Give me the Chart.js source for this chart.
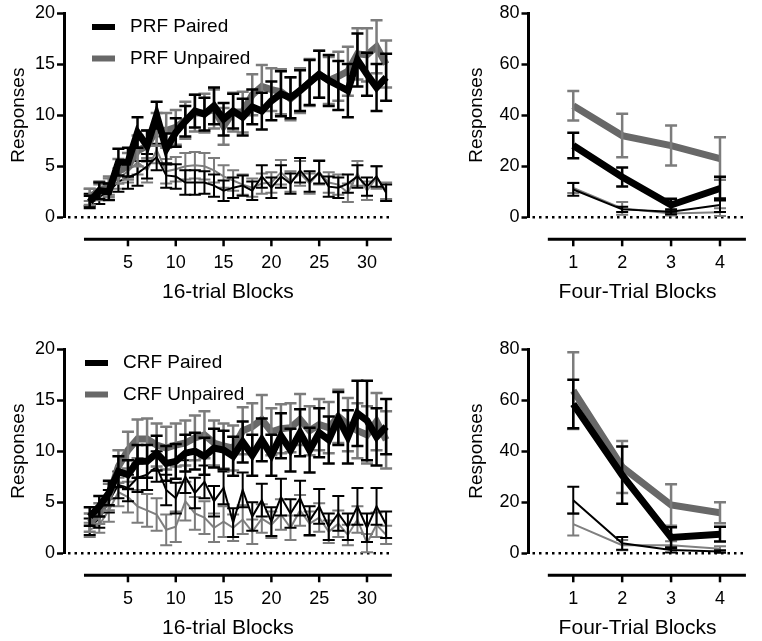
<!DOCTYPE html>
<html>
<head>
<meta charset="utf-8">
<script src="https://cdn.jsdelivr.net/npm/chart.js@4.4.0/dist/chart.umd.min.js"></script>
<style>
  body { margin: 0; background: #fff; width: 762px; height: 641px; position: relative; overflow: hidden; }
  canvas { position: absolute; }
</style>
</head>
<body>
<canvas id="prfBlocks" width="412" height="305" style="left:0;top:0"></canvas>
<canvas id="prfFour" width="302" height="305" style="left:458px;top:0"></canvas>
<canvas id="crfBlocks" width="412" height="305" style="left:0;top:336px"></canvas>
<canvas id="crfFour" width="302" height="305" style="left:458px;top:336px"></canvas>
<script>
// x values and tick labels
var blocks = [1, 2, 3, 4, 5, 6, 7, 8, 9, 10, 11, 12, 13, 14, 15, 16, 17, 18, 19, 20, 21, 22, 23, 24, 25, 26, 27, 28, 29, 30, 31, 32];
var blockTicks = [5, 10, 15, 20, 25, 30];
var fourBlocks = [1, 2, 3, 4];
var fourTicks = [1, 2, 3, 4];

// PRF, 16-trial blocks
var prfPaired = [1.5, 2.6, 2.5, 5.4, 5.4, 8.3, 7.0, 10.0, 6.7, 8.3, 9.4, 10.4, 10.1, 10.9, 9.6, 10.4, 9.8, 10.8, 10.4, 11.4, 12.1, 11.7, 12.4, 13.2, 14.0, 13.4, 12.9, 12.4, 15.4, 14.0, 12.7, 13.7];
var prfPairedErr = [0.6, 0.8, 0.8, 1.3, 1.4, 1.5, 1.5, 1.3, 1.5, 1.4, 1.5, 1.6, 1.6, 1.8, 1.6, 1.7, 1.8, 1.7, 1.8, 1.9, 2.2, 2.0, 2.0, 2.2, 2.3, 2.5, 2.4, 2.6, 2.6, 2.1, 2.3, 2.3];
var prfUnpaired = [2.0, 2.6, 3.0, 4.5, 5.0, 6.5, 7.0, 8.6, 8.5, 8.8, 9.5, 10.2, 10.2, 10.6, 8.9, 10.3, 10.3, 12.0, 12.8, 12.5, 12.3, 11.6, 12.4, 13.2, 14.0, 13.4, 13.8, 14.3, 16.0, 15.9, 16.7, 15.0];
var prfUnpairedErr = [0.8, 0.9, 1.0, 1.2, 1.3, 1.5, 1.5, 1.6, 1.7, 1.7, 1.8, 1.8, 1.9, 1.9, 1.8, 1.9, 2.0, 2.0, 2.1, 2.1, 2.2, 2.1, 2.2, 2.3, 2.3, 2.3, 2.4, 2.4, 2.5, 2.6, 2.6, 2.3];
var prfPairedThin = [1.7, 2.0, 2.5, 3.5, 3.9, 4.3, 5.0, 5.9, 4.1, 4.0, 3.4, 3.4, 3.4, 3.1, 2.6, 2.9, 3.1, 2.6, 4.0, 2.9, 4.0, 3.3, 4.6, 3.5, 4.4, 3.0, 2.9, 3.3, 4.0, 3.0, 4.0, 2.4];
var prfPairedThinErr = [0.6, 0.7, 0.8, 1.0, 1.1, 1.2, 1.2, 1.3, 1.2, 1.2, 1.2, 1.2, 1.1, 1.1, 1.0, 1.0, 1.0, 0.9, 1.1, 1.0, 1.1, 1.0, 1.2, 1.0, 1.1, 1.0, 1.0, 0.9, 1.1, 0.9, 1.0, 0.8];
var prfUnpairedThin = [2.2, 2.5, 3.0, 3.8, 4.5, 5.4, 4.6, 6.6, 4.5, 4.7, 5.0, 5.1, 5.0, 4.6, 4.0, 3.6, 3.2, 2.9, 3.3, 3.4, 4.4, 3.5, 4.3, 3.3, 4.4, 3.4, 3.2, 2.4, 4.3, 2.6, 3.9, 2.6];
var prfUnpairedThinErr = [0.6, 0.7, 0.8, 1.0, 1.1, 1.2, 1.2, 1.3, 1.2, 1.2, 1.3, 1.3, 1.3, 1.2, 1.1, 1.0, 1.0, 0.9, 1.0, 1.0, 1.2, 1.0, 1.2, 1.0, 1.2, 1.0, 1.0, 0.9, 1.2, 0.9, 1.1, 0.8];

// PRF, four-trial blocks
var prfFourPaired = [28.1, 15.8, 4.8, 11.3];
var prfFourPairedErr = [5.0, 3.7, 2.5, 4.6];
var prfFourUnpaired = [43.7, 32.0, 28.1, 23.0];
var prfFourUnpairedErr = [5.8, 8.5, 7.8, 8.3];
var prfFourPairedThin = [10.9, 3.1, 2.2, 4.8];
var prfFourPairedThinErr = [2.5, 1.0, 1.0, 2.7];
var prfFourUnpairedThin = [11.5, 3.5, 1.5, 2.0];
var prfFourUnpairedThinErr = [2.0, 2.5, 0.8, 1.5];

// CRF, 16-trial blocks
var crfPaired = [3.6, 4.6, 5.9, 8.0, 7.7, 9.0, 9.0, 9.8, 8.8, 9.0, 9.8, 10.0, 9.5, 10.3, 10.1, 9.5, 10.9, 9.6, 11.1, 9.6, 11.5, 10.1, 11.8, 10.1, 11.8, 11.1, 13.2, 11.4, 13.7, 13.0, 11.4, 12.4];
var crfPairedErr = [0.9, 1.0, 1.2, 1.5, 1.4, 1.6, 1.6, 1.7, 1.7, 1.7, 1.8, 1.8, 1.8, 1.9, 1.9, 1.9, 2.0, 2.0, 2.1, 2.0, 2.2, 2.1, 2.3, 2.2, 2.4, 2.3, 2.6, 2.6, 3.2, 3.9, 2.8, 2.7];
var crfUnpaired = [3.0, 3.9, 5.5, 8.5, 10.1, 11.2, 11.2, 10.6, 10.3, 10.6, 10.8, 11.3, 11.6, 10.8, 10.5, 10.3, 12.0, 12.4, 13.1, 11.9, 12.2, 12.3, 13.1, 12.0, 12.6, 12.3, 13.4, 12.6, 12.0, 11.6, 12.9, 11.1];
var crfUnpairedErr = [0.9, 1.0, 1.3, 1.6, 1.8, 1.9, 2.0, 2.1, 2.1, 2.1, 2.2, 2.2, 2.3, 2.2, 2.2, 2.2, 2.3, 2.3, 2.4, 2.3, 2.4, 2.4, 2.5, 2.4, 2.5, 2.5, 2.6, 2.6, 2.7, 2.8, 2.8, 2.8];
var crfPairedThin = [2.6, 3.4, 5.1, 6.7, 6.4, 7.4, 7.7, 8.5, 6.2, 5.4, 7.5, 5.9, 7.0, 5.1, 6.4, 3.0, 6.2, 3.6, 5.2, 3.1, 5.5, 3.9, 5.4, 3.2, 4.6, 2.6, 3.9, 2.6, 4.6, 2.5, 4.6, 2.8];
var crfPairedThinErr = [0.8, 0.9, 1.1, 1.3, 1.3, 1.4, 1.5, 1.5, 1.5, 1.5, 1.6, 1.5, 1.6, 1.5, 1.6, 1.4, 1.7, 1.4, 1.6, 1.4, 1.8, 1.4, 1.7, 1.4, 1.7, 1.3, 1.7, 1.3, 1.8, 1.4, 1.8, 1.3];
var crfUnpairedThin = [2.3, 2.8, 4.2, 6.0, 5.5, 4.6, 4.2, 3.8, 2.3, 2.6, 5.1, 3.9, 3.5, 2.5, 3.1, 2.5, 3.3, 2.1, 3.4, 2.8, 3.8, 2.5, 4.2, 2.9, 3.5, 2.1, 2.9, 1.8, 3.3, 1.0, 2.8, 1.8];
var crfUnpairedThinErr = [0.7, 0.8, 1.1, 1.4, 1.5, 1.6, 1.6, 1.6, 1.5, 1.5, 1.9, 1.6, 1.6, 1.4, 1.5, 1.3, 1.4, 1.2, 1.4, 1.3, 1.5, 1.2, 1.5, 1.2, 1.4, 1.1, 1.3, 1.0, 1.3, 0.9, 1.2, 0.9];

// CRF, four-trial blocks
var crfFourPaired = [58.5, 30.6, 6.2, 7.5];
var crfFourPairedErr = [9.5, 11.2, 4.0, 2.9];
var crfFourUnpaired = [63.7, 33.8, 18.9, 15.9];
var crfFourUnpairedErr = [15.0, 10.2, 8.1, 4.1];
var crfFourPairedThin = [20.8, 3.9, 1.3, 0.7];
var crfFourPairedThinErr = [5.3, 2.5, 1.0, 0.5];
var crfFourUnpairedThin = [11.4, 3.2, 3.2, 1.8];
var crfFourUnpairedThinErr = [4.4, 2.0, 1.5, 1.0];

var BLACK = '#000000';
var GRAY = '#686868';
var THIN_GRAY = '#808080';
var ERR_GRAY = '#7c7c7c';
var FONT = "'Liberation Sans', Arial, sans-serif";

function pts(xs, ys) {
  return xs.map(function (x, i) { return { x: x, y: ys[i] }; });
}

function series(label, xs, ys, errs, color, width, errColor, inLegend) {
  return {
    label: label,
    data: pts(xs, ys),
    errors: errs,
    errColor: errColor,
    inLegend: inLegend,
    borderColor: color,
    backgroundColor: color,
    borderWidth: width,
    pointRadius: 0,
    tension: 0,
    fill: false
  };
}

// dotted zero line, error bars, offset x axis and legend
var prismPlugin = {
  id: 'prism',
  beforeDatasetsDraw: function (chart) {
    var ctx = chart.ctx, y = chart.scales.y.getPixelForValue(0), a = chart.chartArea;
    ctx.save();
    ctx.strokeStyle = BLACK;
    ctx.lineWidth = 2.5;
    ctx.setLineDash([2.5, 4]);
    ctx.beginPath();
    ctx.moveTo(a.left + 4, y);
    ctx.lineTo(a.right, y);
    ctx.stroke();
    ctx.restore();
  },
  afterDatasetDraw: function (chart, args) {
    var ds = chart.data.datasets[args.index];
    if (!ds.errors) return;
    var ctx = chart.ctx, ys = chart.scales.y, cap = 6;
    ctx.save();
    ctx.strokeStyle = ds.errColor;
    ctx.lineWidth = ds.borderWidth > 3 ? 2.5 : 2;
    args.meta.data.forEach(function (p, i) {
      var v = ds.data[i].y, e = ds.errors[i];
      var top = ys.getPixelForValue(v + e), bot = ys.getPixelForValue(Math.max(v - e, 0));
      ctx.beginPath();
      ctx.moveTo(p.x, top); ctx.lineTo(p.x, bot);
      ctx.moveTo(p.x - cap, top); ctx.lineTo(p.x + cap, top);
      ctx.moveTo(p.x - cap, bot); ctx.lineTo(p.x + cap, bot);
      ctx.stroke();
    });
    ctx.restore();
  },
  afterDraw: function (chart, args, opts) {
    var ctx = chart.ctx, xs = chart.scales.x;
    var y = chart.chartArea.bottom + 22;
    ctx.save();
    ctx.strokeStyle = BLACK;
    ctx.lineWidth = 3;
    ctx.beginPath();
    ctx.moveTo(xs.getPixelForValue(opts.axisFrom), y);
    ctx.lineTo(xs.getPixelForValue(opts.axisTo), y);
    ctx.stroke();
    ctx.lineWidth = 2.5;
    xs.ticks.forEach(function (t) {
      var x = xs.getPixelForValue(t.value);
      ctx.beginPath();
      ctx.moveTo(x, y);
      ctx.lineTo(x, y + 7);
      ctx.stroke();
    });
    if (opts.legendX) {
      var ly = 27;
      ctx.font = '19px ' + FONT;
      ctx.textBaseline = 'middle';
      ctx.fillStyle = BLACK;
      chart.data.datasets.forEach(function (ds) {
        if (!ds.inLegend) return;
        ctx.strokeStyle = ds.borderColor;
        ctx.lineWidth = 6;
        ctx.beginPath();
        ctx.moveTo(opts.legendX, ly);
        ctx.lineTo(opts.legendX + 23, ly);
        ctx.stroke();
        ctx.fillText(ds.label, opts.legendX + 38, ly);
        ly += 31.5;
      });
    }
    ctx.restore();
  }
};

function makeChart(id, xs, sets, cfg) {
  return new Chart(document.getElementById(id), {
    type: 'line',
    data: { datasets: sets },
    plugins: [prismPlugin],
    options: {
      responsive: false,
      animation: false,
      devicePixelRatio: 1,
      layout: { padding: { top: 13, right: 0, bottom: 0, left: 0 } },
      plugins: {
        legend: { display: false },
        tooltip: { enabled: false },
        prism: { axisFrom: cfg.axisFrom, axisTo: cfg.axisTo, legendX: cfg.legendX }
      },
      scales: {
        x: {
          type: 'linear',
          min: cfg.xMin,
          max: cfg.xMax,
          grid: { display: false, drawTicks: false },
          border: { display: false },
          afterBuildTicks: function (s) { s.ticks = cfg.ticks.map(function (v) { return { value: v }; }); },
          afterFit: function (s) { s.height = 305 - 217.3; },
          ticks: { padding: 35, color: BLACK, font: { family: FONT, size: 18 }, maxRotation: 0, autoSkip: false },
          title: { display: true, text: cfg.xTitle, color: BLACK, font: { family: FONT, size: 21 }, padding: 0 }
        },
        y: {
          min: 0,
          max: cfg.yMax,
          afterFit: function (s) { s.width = cfg.yWidth; },
          grid: { drawOnChartArea: false, tickLength: 7, tickWidth: 2.5, tickColor: BLACK, color: BLACK },
          border: { display: true, color: BLACK, width: 3 },
          ticks: { stepSize: cfg.yMax / 4, padding: 2, color: BLACK, font: { family: FONT, size: 18 } },
          title: { display: true, text: 'Responses', color: BLACK, font: { family: FONT, size: 19 }, padding: { top: cfg.titlePad, bottom: 0 } }
        }
      }
    }
  });
}

makeChart('prfBlocks', blocks, [
  series('PRF Paired', blocks, prfPaired, prfPairedErr, BLACK, 7, BLACK, true),
  series('PRF Unpaired', blocks, prfUnpaired, prfUnpairedErr, GRAY, 7, ERR_GRAY, true),
  series('PRF Paired (thin)', blocks, prfPairedThin, prfPairedThinErr, BLACK, 2, BLACK, false),
  series('PRF Unpaired (thin)', blocks, prfUnpairedThin, prfUnpairedThinErr, THIN_GRAY, 2, ERR_GRAY, false)
], { xMin: -1.69, xMax: 32.6, ticks: blockTicks, axisFrom: 0.4, axisTo: 32.6, xTitle: '16-trial Blocks', yMax: 20, yWidth: 64, titlePad: 7, legendX: 92 });

makeChart('prfFour', fourBlocks, [
  series('PRF Paired', fourBlocks, prfFourPaired, prfFourPairedErr, BLACK, 7, BLACK, false),
  series('PRF Unpaired', fourBlocks, prfFourUnpaired, prfFourUnpairedErr, GRAY, 7, ERR_GRAY, false),
  series('PRF Paired (thin)', fourBlocks, prfFourPairedThin, prfFourPairedThinErr, BLACK, 2, BLACK, false),
  series('PRF Unpaired (thin)', fourBlocks, prfFourUnpairedThin, prfFourUnpairedThinErr, THIN_GRAY, 2, ERR_GRAY, false)
], { xMin: 0.085, xMax: 4.545, ticks: fourTicks, axisFrom: 0.48, axisTo: 4.53, xTitle: 'Four-Trial Blocks', yMax: 80, yWidth: 70.5, titlePad: 7.5, legendX: 0 });

makeChart('crfBlocks', blocks, [
  series('CRF Paired', blocks, crfPaired, crfPairedErr, BLACK, 7, BLACK, true),
  series('CRF Unpaired', blocks, crfUnpaired, crfUnpairedErr, GRAY, 7, ERR_GRAY, true),
  series('CRF Paired (thin)', blocks, crfPairedThin, crfPairedThinErr, BLACK, 2, BLACK, false),
  series('CRF Unpaired (thin)', blocks, crfUnpairedThin, crfUnpairedThinErr, THIN_GRAY, 2, ERR_GRAY, false)
], { xMin: -1.69, xMax: 32.6, ticks: blockTicks, axisFrom: 0.4, axisTo: 32.6, xTitle: '16-trial Blocks', yMax: 20, yWidth: 64, titlePad: 7, legendX: 85 });

makeChart('crfFour', fourBlocks, [
  series('CRF Paired', fourBlocks, crfFourPaired, crfFourPairedErr, BLACK, 7, BLACK, false),
  series('CRF Unpaired', fourBlocks, crfFourUnpaired, crfFourUnpairedErr, GRAY, 7, ERR_GRAY, false),
  series('CRF Paired (thin)', fourBlocks, crfFourPairedThin, crfFourPairedThinErr, BLACK, 2, BLACK, false),
  series('CRF Unpaired (thin)', fourBlocks, crfFourUnpairedThin, crfFourUnpairedThinErr, THIN_GRAY, 2, ERR_GRAY, false)
], { xMin: 0.085, xMax: 4.545, ticks: fourTicks, axisFrom: 0.48, axisTo: 4.53, xTitle: 'Four-Trial Blocks', yMax: 80, yWidth: 70.5, titlePad: 7.5, legendX: 0 });
</script>
</body>
</html>
